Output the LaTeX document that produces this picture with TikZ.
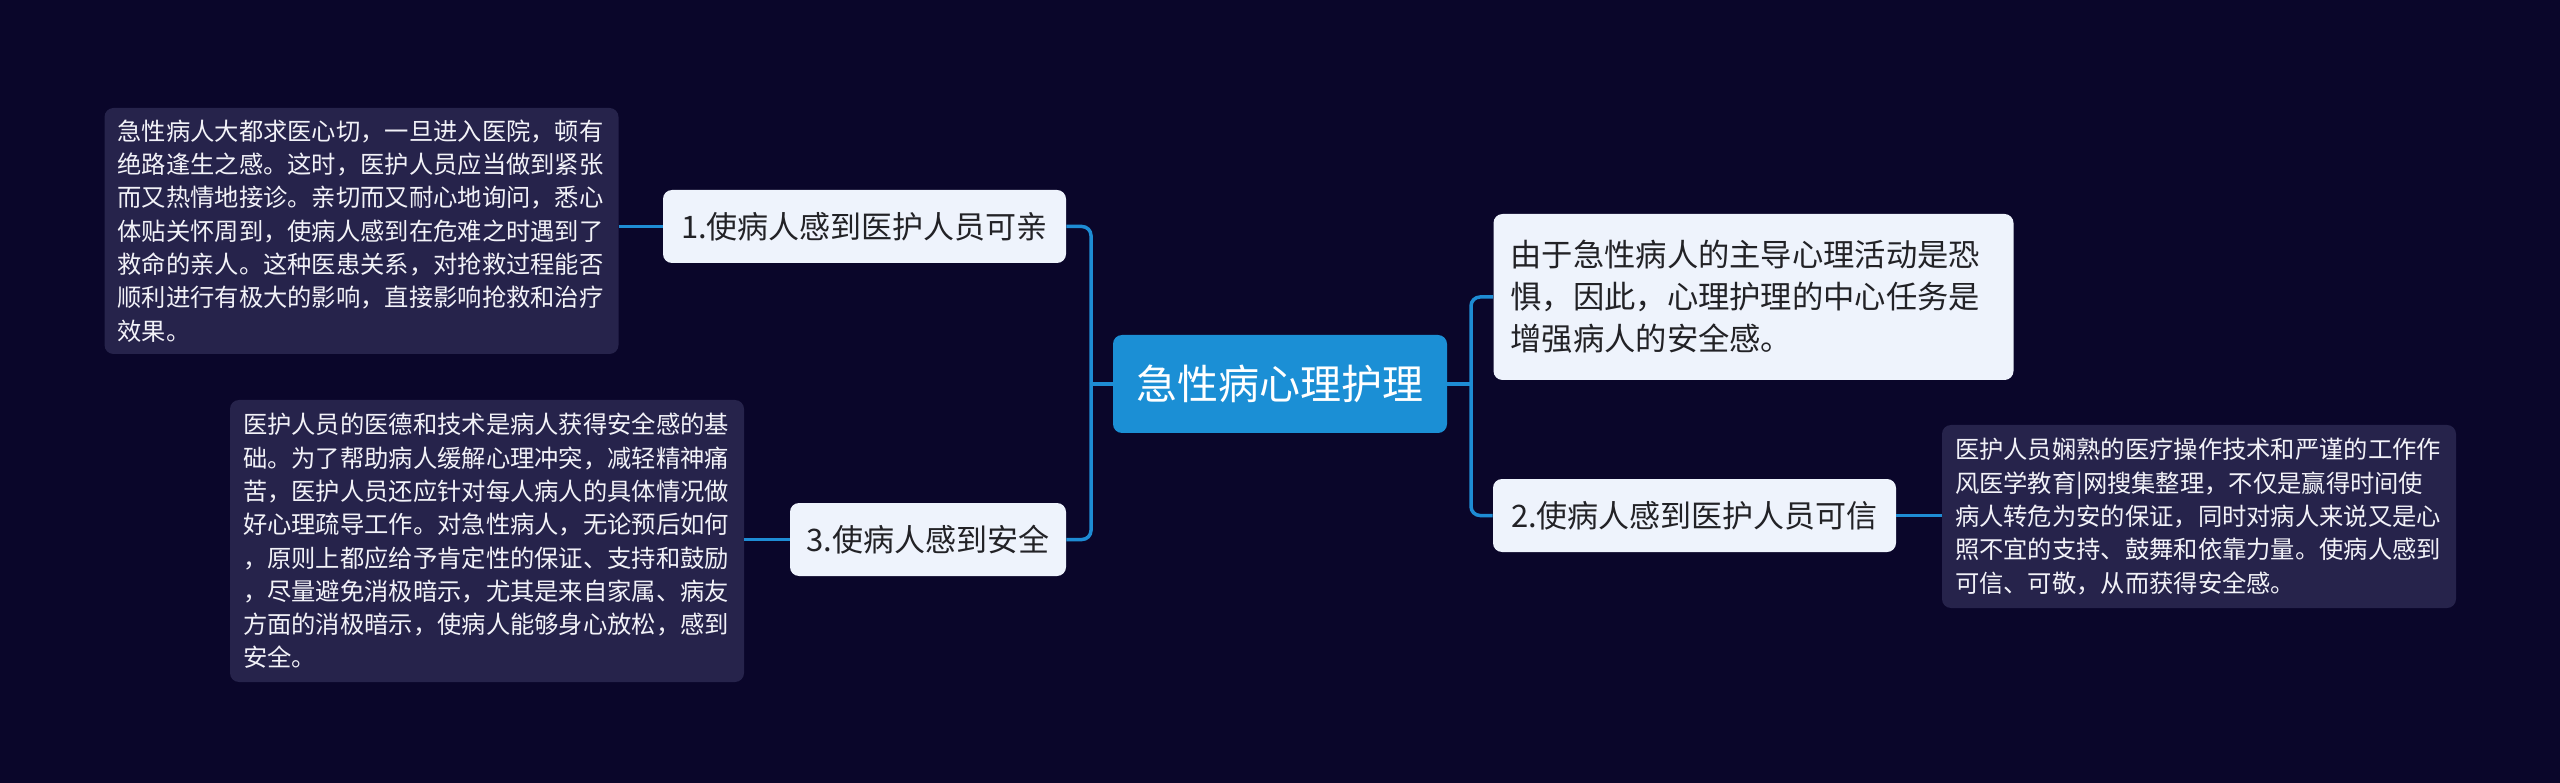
\documentclass[tikz,border=0pt]{standalone}
\usepackage{fontspec}
\newfontfamily\cjk{Noto Sans CJK SC}

\definecolor{bgnavy}{RGB}{10,6,42}
\definecolor{rootblue}{RGB}{27,143,213}
\definecolor{paleblue}{RGB}{238,243,252}
\definecolor{inkgray}{RGB}{34,34,38}
\definecolor{noteviolet}{RGB}{38,35,75}
\definecolor{notewhite}{RGB}{242,242,248}
\definecolor{linkblue}{RGB}{30,140,212}

\tikzset{every picture/.style={line width=0.75pt}}
\tikzset{
  rootbox/.style={fill=rootblue, rounded corners=9pt, text=white, font=\cjk\fontsize{41}{48}\selectfont, minimum width=334pt, minimum height=98pt, inner sep=0pt},
  topicbox/.style={fill=paleblue, rounded corners=9pt, text=inkgray, font=\cjk\fontsize{31}{42}\selectfont, minimum height=73pt, inner sep=0pt},
  notebox/.style={fill=noteviolet, rounded corners=9pt, text=notewhite, font=\cjk\fontsize{24.3}{33.3}\selectfont, align=left, text width=488pt, inner xsep=13pt, inner ysep=0pt},
  link/.style={draw=linkblue, line width=3.5pt, rounded corners=9pt},
}

\begin{document}
\begin{tikzpicture}[x=1pt,y=1pt,yscale=-1,xscale=1]
\fill[bgnavy] (0,0) rectangle (2560,783);
\useasboundingbox (0,0) rectangle (2560,783);

% Root
\node[rootbox] (root) at (1280,384) {急性病心理护理};

% Left branches
\node[topicbox, minimum width=403pt] (n1) at (864.5,226.5) {1.使病人感到医护人员可亲};
\node[topicbox, minimum width=276pt] (n3) at (928,539.5) {3.使病人感到安全};

% Right branches
\node[topicbox, minimum width=403pt] (n2) at (1694.5,515.5) {2.使病人感到医护人员可信};
\node[notebox, fill=paleblue, text=inkgray, font=\cjk\fontsize{31.3}{42}\selectfont, text width=486pt, inner xsep=17pt, minimum height=166pt] (fear) at (1753.5,297) {由于急性病人的主导心理活动是恐\\惧，因此，心理护理的中心任务是\\增强病人的安全感。};

% Notes
\node[notebox, minimum height=246pt] (d1) at (361.5,231) {急性病人大都求医心切，一旦进入医院，顿有\\绝路逢生之感。这时，医护人员应当做到紧张\\而又热情地接诊。亲切而又耐心地询问，悉心\\体贴关怀周到，使病人感到在危难之时遇到了\\救命的亲人。这种医患关系，对抢救过程能否\\顺利进行有极大的影响，直接影响抢救和治疗\\效果。};
\node[notebox, minimum height=282pt] (d3) at (487,541) {医护人员的医德和技术是病人获得安全感的基\\础。为了帮助病人缓解心理冲突，减轻精神痛\\苦，医护人员还应针对每人病人的具体情况做\\好心理疏导工作。对急性病人，无论预后如何\\，原则上都应给予肯定性的保证、支持和鼓励\\，尽量避免消极暗示，尤其是来自家属、病友\\方面的消极暗示，使病人能够身心放松，感到\\安全。};
\node[notebox, minimum height=183pt] (d2) at (2199,516.5) {医护人员娴熟的医疗操作技术和严谨的工作作\\风医学教育|网搜集整理，不仅是赢得时间使\\病人转危为安的保证，同时对病人来说又是心\\照不宜的支持、鼓舞和依靠力量。使病人感到\\可信、可敬，从而获得安全感。};

% Connection
\coordinate (lbus) at (1091,384);
\coordinate (rbus) at (1471,384);
\draw[link] (root.west) -- (lbus);
\draw[link] (lbus) |- (n1.east);
\draw[link] (lbus) |- (n3.east);
\draw[link] (root.east) -- (rbus);
\draw[link] (rbus) |- (fear.west);
\draw[link] (rbus) |- (n2.west);
% Connection
\draw[link] (n1.west) -- (n1.west -| d1.east);
\draw[link] (n3.west) -- (n3.west -| d3.east);
\draw[link] (n2.east) -- (n2.east -| d2.west);

\end{tikzpicture}
\end{document}
